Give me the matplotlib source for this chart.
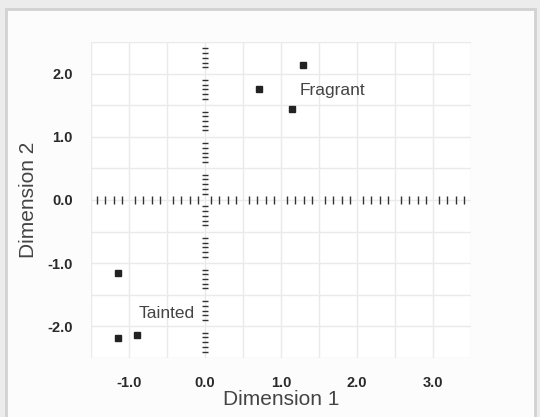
import matplotlib
matplotlib.use("Agg")
import matplotlib.pyplot as plt
import numpy as np
from matplotlib.patches import Rectangle

# points
fragrantX = [1.29, 0.71, 1.14]
fragrantY = [2.14, 1.75, 1.44]
taintedX = [-1.14, -1.14, -0.89]
taintedY = [-1.16, -2.19, -2.14]

xTicks = [-1.0, 0.0, 1.0, 2.0, 3.0]
yTicks = [-2.0, -1.0, 0.0, 1.0, 2.0]
xLabel = "Dimension 1"
yLabel = "Dimension 2"

plt.rcParams['font.family'] = ['Liberation Sans', 'DejaVu Sans']

fig = plt.figure(figsize=(5.4, 4.17), dpi=100)
fig.patch.set_facecolor('#ececec')
# outer frame of the panel
fig.add_artist(Rectangle((0.011, -0.05), 0.979, 1.028, transform=fig.transFigure,
                         facecolor='#fcfcfc', edgecolor='#d2d2d2', linewidth=2,
                         zorder=-10))

ax = fig.add_axes([0.1685, 0.1415, 0.7037, 0.7578])
ax.set_facecolor('white')
ax.set_xlim(-1.5, 3.5)
ax.set_ylim(-2.5, 2.5)

# light grid every half unit
for gx in np.arange(-1.5, 3.51, 0.5):
    ax.axvline(gx, color='#eaeaea', linewidth=1, zorder=0)
for gy in np.arange(-2.5, 2.51, 0.5):
    ax.axhline(gy, color='#eaeaea', linewidth=1, zorder=0)

# ruler-like axes through the origin
cellsX = np.arange(-1.5, 3.4, 0.5)
hx = np.concatenate([c + 0.5 * np.array([0.15, 0.37, 0.6, 0.82]) for c in cellsX])
ax.plot(hx, np.zeros_like(hx), linestyle='none', marker='|', markersize=6,
        markeredgewidth=1.0, color='#333333', zorder=2)
cellsY = np.arange(-2.5, 2.4, 0.5)
vy = np.concatenate([c + 0.5 * np.array([0.2, 0.35, 0.5, 0.65, 0.8]) for c in cellsY])
ax.plot(np.zeros_like(vy), vy, linestyle='none', marker='_', markersize=5,
        markeredgewidth=1.0, color='#333333', zorder=2)

ax.plot(fragrantX, fragrantY, linestyle='none', marker='s', markersize=5,
        color='#222222', zorder=3)
ax.plot(taintedX, taintedY, linestyle='none', marker='s', markersize=5,
        color='#222222', zorder=3)

ax.text(1.25, 1.74, "Fragrant", fontsize=12.5, color='#444444', va='center', ha='left')
ax.text(-0.13, -1.79, "Tainted", fontsize=12.5, color='#444444', va='center', ha='right')

ax.set_xticks(xTicks)
ax.set_yticks(yTicks)
ax.set_xticklabels(['{:.1f}'.format(v) for v in xTicks])
ax.set_yticklabels(['{:.1f}'.format(v) for v in yTicks])
ax.tick_params(axis='both', length=0, labelsize=10.5, labelcolor='#2a2a2a')
ax.tick_params(axis='x', pad=13)
ax.tick_params(axis='y', pad=13)
for lab in ax.get_xticklabels() + ax.get_yticklabels():
    lab.set_fontweight('bold')

for s in ax.spines.values():
    s.set_visible(False)

ax.set_xlabel(xLabel, fontsize=15, color='#444444', labelpad=0)
ax.set_ylabel(yLabel, fontsize=15, color='#444444', labelpad=7)

fig.savefig('out.png', dpi=100, facecolor=fig.get_facecolor())
